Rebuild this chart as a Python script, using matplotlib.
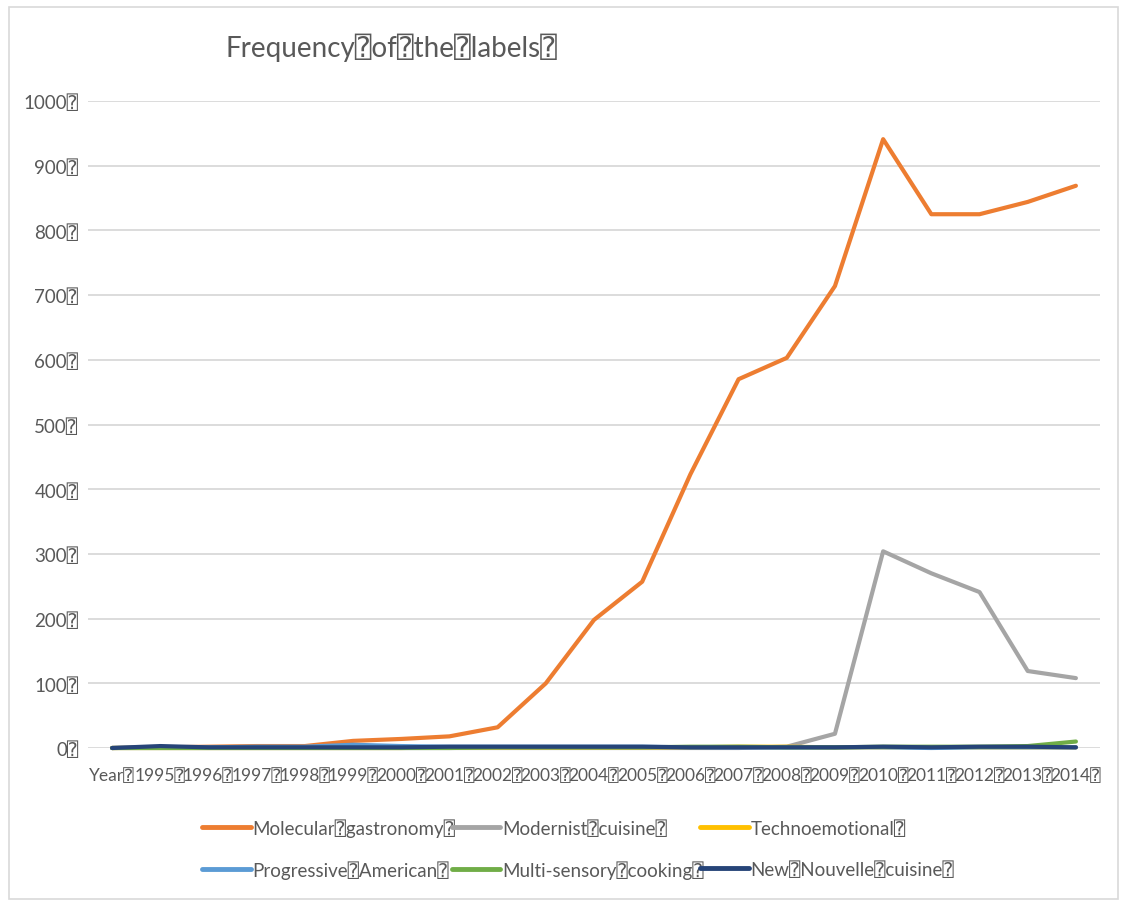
import matplotlib.pyplot as plt
from matplotlib.patches import Rectangle

BOX = "\u2370"

years = ["Year"] + [str(y) for y in range(1995, 2015)]
molecular = [0, 1, 2, 3, 3, 11, 14, 18, 32, 100, 198, 257, 423, 570, 603, 714, 941, 825, 825, 844, 869]
modernist = [0, 0, 0, 0, 0, 0, 0, 0, 0, 0, 0, 0, 0, 0, 2, 22, 304, 270, 241, 119, 108]
techno = [0, 0, 0, 0, 0, 0, 0, 1, 1, 1, 1, 1, 1, 2, 2, 1, 1, 1, 1, 1, 1]
progressive = [0, 1, 1, 2, 2, 5, 3, 2, 2, 2, 2, 2, 1, 1, 1, 1, 1, 0, 1, 1, 1]
multisensory = [0, 0, 0, 0, 0, 0, 0, 0, 1, 1, 1, 1, 2, 2, 1, 1, 2, 2, 2, 3, 10]
nouvelle = [0, 3, 1, 1, 1, 1, 1, 2, 2, 2, 2, 2, 1, 1, 1, 1, 2, 1, 2, 2, 1]

series = [
    ("Molecular gastronomy", molecular, "#ED7D31"),
    ("Modernist cuisine", modernist, "#A5A5A5"),
    ("Technoemotional", techno, "#FFC000"),
    ("Progressive American", progressive, "#5B9BD5"),
    ("Multi-sensory cooking", multisensory, "#70AD47"),
    ("New Nouvelle cuisine", nouvelle, "#264478"),
]

plt.rcParams["font.family"] = ["Lato", "DejaVu Sans Mono", "DejaVu Sans"]
txt = "#595959"
grid = "#D9D9D9"

def boxed(s):
    return s.replace(" ", BOX) + BOX

fig = plt.figure(figsize=(11.24, 9.03), dpi=100)
fig.patches.append(Rectangle((9 / 1124, 3 / 903), 1109 / 1124, 892 / 903,
                             transform=fig.transFigure, fill=False,
                             edgecolor=grid, lw=1.2))

ax = fig.add_axes([88 / 1124, 1 - 749 / 903, 1012 / 1124, 647 / 903])
x = list(range(len(years)))
handles = []
for name, vals, color in series:
    h, = ax.plot(x, vals, color=color, lw=3, solid_capstyle="round",
                 solid_joinstyle="round", label=boxed(name), clip_on=False)
    handles.append(h)

ax.set_xlim(-0.5, len(years) - 0.5)
ax.set_ylim(0, 1000)
ax.set_yticks(range(0, 1001, 100))
ax.set_yticklabels([f"{v}{BOX}" for v in range(0, 1001, 100)])
ax.set_xticks(x)
ax.set_xticklabels([f"{y}{BOX}" for y in years])
ax.grid(axis="y", color=grid, lw=1.3)
ax.set_axisbelow(True)
for s in ax.spines.values():
    s.set_visible(False)
ax.tick_params(length=0, colors=txt)
ax.tick_params(axis="y", pad=7, labelsize=13.5)
ax.tick_params(axis="x", pad=14, labelsize=12.5)

fig.text(226 / 1124, 1 - 48 / 903, boxed("Frequency of the labels"),
         fontsize=20, color=txt, ha="left", va="center")

# legend fills column-first, so interleave to read across rows
order = [0, 3, 1, 4, 2, 5]
leg = fig.legend([handles[i] for i in order],
                 [handles[i].get_label() for i in order],
                 loc="upper left", bbox_to_anchor=(185 / 1124, 1 - 802 / 903),
                 ncol=3, frameon=False, fontsize=13.5, handlelength=2.6,
                 handletextpad=0.1, columnspacing=-0.2, labelspacing=1.25,
                 labelcolor=txt)
for line in leg.get_lines():
    line.set_linewidth(3.5)
    line.set_solid_capstyle("round")

fig.savefig("out.png", dpi=100)
